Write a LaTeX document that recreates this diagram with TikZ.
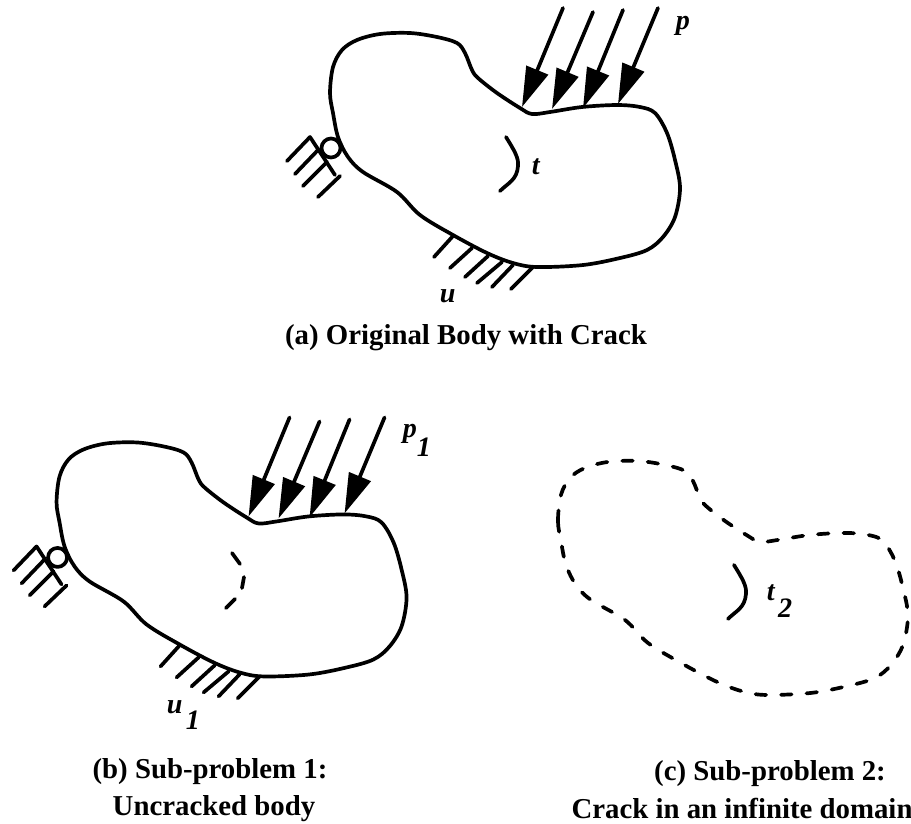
\documentclass[tikz,border=0pt]{standalone}
\usepackage{fontspec}
\setmainfont{Liberation Serif}
\usetikzlibrary{arrows.meta}

\newcommand{\bodyoutline}{plot[smooth cycle,tension=0.55] coordinates {(333,113) (330,93) (333,67) (342,50) (357,40) (380,34) (410,33) (437,37) (457,43) (465,53) (472,70) (478,78) (497,93) (520,108) (532,114) (550,112) (582,107) (617,105) (640,107) (655,113) (667,133) (675,160) (680,188) (675,217) (663,237) (647,250) (620,258) (583,265) (537,267) (513,263) (487,253) (453,235) (420,215) (397,192) (363,172) (348,157) (338,137)}}
\newcommand{\crackline}{(506,137) .. controls (514,150) and (519,158) .. (518,166) .. controls (517,180) and (508,183) .. (500,191)}
\newcommand{\loadsandsupports}{
	\draw[load] (563,8) -- (522,107);
	\draw[load] (593,12) -- (552,109);
	\draw[load] (623,10) -- (583,108);
	\draw[load] (658,8) -- (618,104);
	\draw (331,148) circle (9.5);
	\draw (287,161) -- (310,137) -- (335,175);
	\draw (295,174) -- (318,150);
	\draw (303,186) -- (327,162);
	\draw (318,197) -- (340,176);
	\draw (453,236) -- (434,257);
	\draw (472,248) -- (450,268);
	\draw (488,256) -- (465,277);
	\draw (502,262) -- (477,283);
	\draw (513,265) -- (492,287);
	\draw (533,267) -- (511,289);
}
\tikzset{
	load/.style={-{Triangle[length=8mm,width=4.6mm]}},
	symbol/.style={font=\bfseries\itshape\fontsize{16}{16}\selectfont,inner sep=0pt,anchor=base west},
	caption/.style={font=\bfseries\fontsize{16.4}{16.4}\selectfont,inner sep=0pt,anchor=base},
}

\begin{document}
\begin{tikzpicture}[x=0.02cm,y=-0.02cm,line width=2.1pt,line join=round,line cap=round]
	\useasboundingbox (0,0) rectangle (911,823);
	% original body
	\draw \bodyoutline;
	\draw \crackline;
	\loadsandsupports
	\node[symbol] (loada) at (674,29) {p};
	\node[symbol] (cracka) at (530,174) {t};
	\node[symbol] (dispa) at (438,302) {u};
	\node[caption] (captiona) at (466,344) {(a) Original Body with Crack};
	% sub-problem 1
	\begin{scope}[xshift=-5.47cm,yshift=-8.19cm]
		\draw \bodyoutline;
		\loadsandsupports
	\end{scope}
	\draw (232,553) -- (240,564);
	\draw (244,577) -- (242,588);
	\draw (235,599) -- (226,608);
	\node[symbol] (loadb) at (401,437) {p\raisebox{-11pt}{1}};
	\node[symbol] (dispb) at (165,713) {u\hspace{2pt}\raisebox{-9.5pt}{1}};
	\node[caption] (captionb) at (210,778) {(b) Sub-problem 1:};
	\node[caption] (captionbb) at (214,815) {Uncracked body};
	% sub-problem 2
	\begin{scope}[xshift=4.56cm,yshift=-8.56cm]
		\draw[dash pattern=on 6pt off 8.5pt] \bodyoutline;
		\draw \crackline;
	\end{scope}
	\node[symbol] (crackc) at (765,600) {t\hspace{2pt}\raisebox{-10pt}{2}};
	\node[caption] (captionc) at (770,780) {(c) Sub-problem 2:};
	\node[caption] (captioncc) at (742,818) {Crack in an infinite domain};
\end{tikzpicture}
\end{document}
